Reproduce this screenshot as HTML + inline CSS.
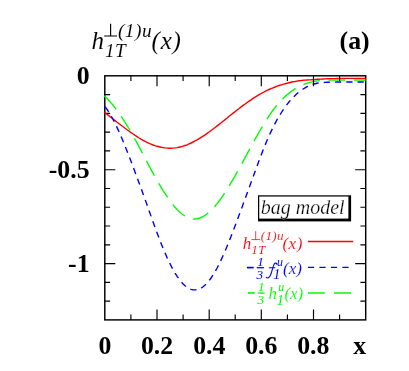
<!DOCTYPE html>
<html><head><meta charset="utf-8"><title>plot</title>
<style>
html,body{margin:0;padding:0;background:#fff;}
svg{display:block;will-change:transform;}
text{font-family:"Liberation Serif",serif;}
.b{font-weight:bold;font-size:25.8px;}
</style></head><body>
<svg width="409" height="371" viewBox="0 0 409 371">
<rect width="409" height="371" fill="#fff"/>
<!-- curves -->
<!-- frame -->
<rect x="104.8" y="75.8" width="260.9" height="244.1" fill="none" stroke="#000" stroke-width="1.45"/>
<path d="M130.9,319.9 v-5.3 M157.0,319.9 v-10.5 M183.1,319.9 v-5.3 M209.2,319.9 v-10.5 M235.2,319.9 v-5.3 M261.3,319.9 v-10.5 M287.4,319.9 v-5.3 M313.5,319.9 v-10.5 M339.6,319.9 v-5.3 M104.8,94.6 h5.3 M104.8,113.4 h5.3 M104.8,132.1 h5.3 M104.8,150.9 h5.3 M104.8,169.7 h10.5 M104.8,188.5 h5.3 M104.8,207.2 h5.3 M104.8,226.0 h5.3 M104.8,244.8 h5.3 M104.8,263.6 h10.5 M104.8,282.3 h5.3 M104.8,301.1 h5.3" fill="none" stroke="#000" stroke-width="1.15"/>
<path d="M105.1,112.9 L107.1,114.4 L109.1,115.9 L111.1,117.5 L113.1,119.0 L115.1,120.6 L117.1,122.2 L119.1,123.7 L121.1,125.3 L123.1,126.8 L125.1,128.3 L127.1,129.8 L129.1,131.2 L131.1,132.7 L133.1,134.0 L135.1,135.4 L137.1,136.7 L139.1,138.0 L141.1,139.2 L143.1,140.3 L145.1,141.4 L147.1,142.4 L149.1,143.3 L151.1,144.2 L153.1,145.0 L155.1,145.7 L157.1,146.3 L159.1,146.8 L161.1,147.3 L163.1,147.6 L165.1,147.9 L167.1,148.1 L169.1,148.2 L171.1,148.2 L173.1,148.1 L175.1,147.9 L177.1,147.6 L179.1,147.2 L181.1,146.8 L183.1,146.2 L185.1,145.5 L187.1,144.8 L189.1,143.9 L191.1,143.0 L193.1,142.0 L195.1,141.0 L197.1,139.9 L199.1,138.7 L201.1,137.4 L203.1,136.1 L205.1,134.8 L207.1,133.4 L209.1,132.0 L211.1,130.5 L213.1,129.0 L215.1,127.5 L217.1,125.9 L219.1,124.4 L221.1,122.8 L223.1,121.2 L225.1,119.6 L227.1,118.0 L229.1,116.3 L231.1,114.7 L233.1,113.1 L235.1,111.6 L237.1,110.0 L239.1,108.5 L241.1,106.9 L243.1,105.4 L245.1,104.0 L247.1,102.5 L249.1,101.1 L251.1,99.8 L253.1,98.4 L255.1,97.2 L257.1,95.9 L259.1,94.7 L261.1,93.6 L263.1,92.5 L265.1,91.4 L267.1,90.4 L269.1,89.5 L271.1,88.6 L273.1,87.8 L275.1,87.0 L277.1,86.2 L279.1,85.5 L281.1,84.9 L283.1,84.3 L285.1,83.7 L287.1,83.2 L289.1,82.7 L291.1,82.2 L293.1,81.8 L295.1,81.5 L297.1,81.1 L299.1,80.8 L301.1,80.6 L303.1,80.3 L305.1,80.1 L307.1,80.0 L309.1,79.9 L311.1,79.8 L313.1,79.6 L315.1,79.5 L317.1,79.3 L319.1,79.2 L321.1,79.1 L323.1,79.0 L325.1,78.9 L327.1,78.8 L329.1,78.7 L331.1,78.7 L333.1,78.6 L335.1,78.6 L337.1,78.5 L339.1,78.5 L341.1,78.5 L343.1,78.4 L345.1,78.4 L347.1,78.4 L349.1,78.4 L351.1,78.4 L353.1,78.4 L355.1,78.4 L357.1,78.4 L359.1,78.4 L361.1,78.4 L363.1,78.4 L365.1,78.4 L365.7,78.4" fill="none" stroke="#ff0000" stroke-width="1.4"/>
<path d="M104.40,112.34 L105.20,112.95" fill="none" stroke="#ff0000" stroke-width="1.4"/>
<path d="M105.1,96.6 L107.1,98.5 L109.1,100.7 L111.1,102.9 L113.1,105.3 L115.1,107.9 L117.1,110.6 L119.1,113.4 L121.1,116.3 L123.1,119.3 L125.1,122.4 L127.1,125.7 L129.1,129.0 L131.1,132.4 L133.1,136.0 L135.1,139.5 L137.1,143.2 L139.1,146.9 L141.1,150.7 L143.1,154.5 L145.1,158.2 L147.1,162.0 L149.1,165.8 L151.1,169.6 L153.1,173.3 L155.1,176.9 L157.1,180.5 L159.1,183.9 L161.1,187.3 L163.1,190.6 L165.1,193.7 L167.1,196.7 L169.1,199.6 L171.1,202.3 L173.1,204.9 L175.1,207.3 L177.1,209.4 L179.1,211.4 L181.1,213.2 L183.1,214.8 L185.1,216.1 L187.1,217.2 L189.1,218.1 L191.1,218.7 L193.1,219.0 L195.1,219.0 L197.1,218.8 L199.1,218.3 L201.1,217.5 L203.1,216.5 L205.1,215.3 L207.1,213.8 L209.1,212.2 L211.1,210.3 L213.1,208.3 L215.1,206.0 L217.1,203.6 L219.1,201.0 L221.1,198.3 L223.1,195.4 L225.1,192.4 L227.1,189.3 L229.1,186.1 L231.1,182.7 L233.1,179.3 L235.1,175.8 L237.1,172.2 L239.1,168.6 L241.1,165.0 L243.1,161.3 L245.1,157.6 L247.1,153.9 L249.1,150.1 L251.1,146.4 L253.1,142.8 L255.1,139.1 L257.1,135.6 L259.1,132.0 L261.1,128.6 L263.1,125.2 L265.1,121.9 L267.1,118.8 L269.1,115.7 L271.1,112.8 L273.1,110.0 L275.1,107.4 L277.1,104.9 L279.1,102.6 L281.1,100.4 L283.1,98.4 L285.1,96.5 L287.1,94.7 L289.1,93.1 L291.1,91.5 L293.1,90.1 L295.1,88.8 L297.1,87.6 L299.1,86.6 L301.1,85.6 L303.1,84.7 L305.1,83.9 L307.1,83.2 L309.1,82.6 L311.1,82.1 L313.1,81.6 L315.1,81.2 L317.1,80.9 L319.1,80.6 L321.1,80.5 L323.1,80.3 L325.1,80.2 L327.1,80.2 L329.1,80.1 L331.1,80.0 L333.1,80.0 L335.1,80.0 L337.1,80.0 L339.1,80.0 L341.1,80.0 L343.1,80.0 L345.1,80.0 L347.1,80.0 L349.1,80.0 L351.1,80.0 L353.1,80.0 L355.1,80.0 L357.1,80.0 L359.1,80.0 L361.1,80.0 L363.1,80.0 L365.1,80.0 L365.7,80.0" fill="none" stroke="#00ff00" stroke-width="1.4" stroke-dasharray="16.8 8.76"/>
<path d="M104.40,95.87 L105.20,96.66" fill="none" stroke="#00ff00" stroke-width="1.4"/>
<path d="M105.1,106.8 L107.1,109.5 L109.1,112.5 L111.1,115.9 L113.1,119.5 L115.1,123.4 L117.1,127.6 L119.1,131.9 L121.1,136.5 L123.1,141.3 L125.1,146.2 L127.1,151.2 L129.1,156.3 L131.1,161.6 L133.1,166.9 L135.1,172.2 L137.1,177.5 L139.1,182.9 L141.1,188.4 L143.1,193.9 L145.1,199.4 L147.1,205.0 L149.1,210.7 L151.1,216.4 L153.1,222.0 L155.1,227.6 L157.1,233.0 L159.1,238.3 L161.1,243.5 L163.1,248.4 L165.1,253.1 L167.1,257.6 L169.1,261.8 L171.1,265.9 L173.1,269.6 L175.1,273.1 L177.1,276.3 L179.1,279.1 L181.1,281.7 L183.1,283.9 L185.1,285.8 L187.1,287.4 L189.1,288.6 L191.1,289.4 L193.1,289.8 L195.1,289.9 L197.1,289.7 L199.1,289.1 L201.1,288.1 L203.1,286.8 L205.1,285.1 L207.1,283.1 L209.1,280.7 L211.1,278.0 L213.1,274.9 L215.1,271.6 L217.1,268.0 L219.1,264.1 L221.1,259.9 L223.1,255.5 L225.1,251.0 L227.1,246.2 L229.1,241.3 L231.1,236.3 L233.1,231.1 L235.1,225.8 L237.1,220.5 L239.1,215.1 L241.1,209.7 L243.1,204.3 L245.1,198.8 L247.1,193.3 L249.1,187.8 L251.1,182.3 L253.1,176.9 L255.1,171.4 L257.1,165.9 L259.1,160.6 L261.1,155.3 L263.1,150.1 L265.1,145.1 L267.1,140.3 L269.1,135.7 L271.1,131.4 L273.1,127.3 L275.1,123.4 L277.1,119.7 L279.1,116.2 L281.1,113.0 L283.1,109.9 L285.1,107.0 L287.1,104.4 L289.1,101.8 L291.1,99.5 L293.1,97.4 L295.1,95.4 L297.1,93.5 L299.1,91.9 L301.1,90.4 L303.1,89.0 L305.1,87.8 L307.1,86.7 L309.1,85.7 L311.1,84.9 L313.1,84.2 L315.1,83.7 L317.1,83.2 L319.1,82.9 L321.1,82.7 L323.1,82.5 L325.1,82.4 L327.1,82.3 L329.1,82.2 L331.1,82.2 L333.1,82.1 L335.1,82.1 L337.1,82.0 L339.1,82.0 L341.1,82.0 L343.1,82.0 L345.1,82.0 L347.1,82.0 L349.1,82.0 L351.1,82.0 L353.1,82.0 L355.1,82.0 L357.1,82.0 L359.1,82.0 L361.1,82.0 L363.1,82.0 L365.1,82.0 L365.7,82.0" fill="none" stroke="#0000ff" stroke-width="1.4" stroke-dasharray="6.2 5.095"/>
<path d="M104.40,105.83 L105.20,106.91" fill="none" stroke="#0000ff" stroke-width="1.4"/>
<path d="M130.9,75.8 v5.3 M157.0,75.8 v10.5 M183.1,75.8 v5.3 M209.2,75.8 v10.5 M235.2,75.8 v5.3 M261.3,75.8 v10.5 M287.4,75.8 v5.3 M313.5,75.8 v10.5 M339.6,75.8 v5.3 M365.7,94.6 h-5.3 M365.7,113.4 h-5.3 M365.7,132.1 h-5.3 M365.7,150.9 h-5.3 M365.7,169.7 h-10.5 M365.7,188.5 h-5.3 M365.7,207.2 h-5.3 M365.7,226.0 h-5.3 M365.7,244.8 h-5.3 M365.7,263.6 h-10.5 M365.7,282.3 h-5.3 M365.7,301.1 h-5.3" fill="none" stroke="#000" stroke-width="1.15"/>
<!-- y labels -->
<g class="b" text-anchor="end">
<text x="89.6" y="84.4">0</text>
<text x="89.6" y="178">-0.5</text>
<text x="89.6" y="271.8">-1</text>
</g>
<g class="b" text-anchor="middle">
<text x="104.9" y="354.3">0</text>
<text x="157.1" y="354.3">0.2</text>
<text x="209.3" y="354.3">0.4</text>
<text x="261.3" y="354.3">0.6</text>
<text x="313.3" y="354.3">0.8</text>
</g>
<text class="b" x="366.2" y="354.3" text-anchor="end">x</text>
<text class="b" x="339.6" y="49.4">(a)</text>
<!-- title -->
<g fill="#000" font-style="italic" font-family="Liberation Serif, serif" stroke="#fff" stroke-width="0.06">
<text x="91.6" y="49.2" font-size="25">h</text>
<path d="M104.2,36.0 h12.8 M110.6,36.0 v-12.3" stroke="#000" stroke-width="1.15" fill="none"/>
<text x="117.9" y="36.8" font-size="19.4" letter-spacing="0.50">(1)u</text>
<text x="104.9" y="57.3" font-size="19.2" letter-spacing="0.50">1T</text>
<text x="151.6" y="49.2" font-size="25" letter-spacing="0.80">(x)</text>
</g>
<!-- legend -->
<rect x="258.0" y="195.3" width="93.1" height="26.1" fill="#000"/>
<rect x="259.25" y="196.55" width="89.15" height="22.05" fill="#fff"/>
<text x="260.8" y="213.8" font-size="20" font-style="italic" stroke="#fff" stroke-width="0.25">bag model</text>
<g fill="#ff0000" font-style="italic" font-family="Liberation Serif, serif" stroke="#fff" stroke-width="0.12">
<text x="242.8" y="248.6" font-size="17">h</text>
<path d="M251.4,239.6 h8.7 M255.7,239.6 v-8.4" stroke="#ff0000" stroke-width="0.78" fill="none"/>
<text x="260.7" y="239.5" font-size="13.2" letter-spacing="0.34">(1)u</text>
<text x="251.2" y="254.1" font-size="13.1" letter-spacing="0.34">1T</text>
<text x="282.4" y="248.6" font-size="17" letter-spacing="0.54">(x)</text>
</g>
<path d="M307.9,241.5 H353.2" stroke="#ff0000" stroke-width="1.3"/>
<path d="M307.9,267.3 H348.7" stroke="#0000ff" stroke-width="1.3" stroke-dasharray="6.2 5.3"/>
<path d="M307.9,293 H351" stroke="#00ff00" stroke-width="1.3" stroke-dasharray="17 9.1"/>
<!-- blue entry -->
<g fill="#0000ff" font-style="italic" stroke="#fff" stroke-width="0.14">
<path d="M246.9,267.6 H253.7" stroke="#0000ff" stroke-width="1.7"/>
<path d="M256.8,267.7 H263.9" stroke="#0000ff" stroke-width="1.3"/>
<text x="257.2" y="265.9" font-size="13.2" stroke="none">1</text>
<text x="256.6" y="278.6" font-size="13.2" stroke="none">3</text>
<path d="M277.0,264.4 C276.9,263.0 275.0,262.5 274.1,264.2 C273.1,266.2 271.5,273.0 270.3,275.6 C269.3,277.8 267.4,278.7 266.3,277.4 M269.3,267.7 H274.9" fill="none" stroke="#0000ff" stroke-width="1.1" stroke-linecap="round"/>
<text x="277.0" y="265.7" font-size="12" stroke="none">u</text>
<text x="273.3" y="279.3" font-size="14.2" stroke="none">1</text>
<text x="283.0" y="273.6" font-size="17">(x)</text>
</g>
<g fill="#00ff00" font-style="italic" stroke="#fff" stroke-width="0.14">
<path d="M247.9,293 H254.8" stroke="#00ff00" stroke-width="1.7"/>
<path d="M257.7,293.1 H264.7" stroke="#00ff00" stroke-width="1.3"/>
<text x="258.0" y="291.2" font-size="13.2" stroke="none">1</text>
<text x="257.4" y="303.8" font-size="13.2" stroke="none">3</text>
<text x="268.6" y="299" font-size="17">h</text>
<text x="278.2" y="291.3" font-size="12" stroke="none">u</text>
<text x="276.8" y="304.6" font-size="14.2" stroke="none">1</text>
<text x="284.4" y="299" font-size="17">(x)</text>
</g>
</svg>
</body></html>
